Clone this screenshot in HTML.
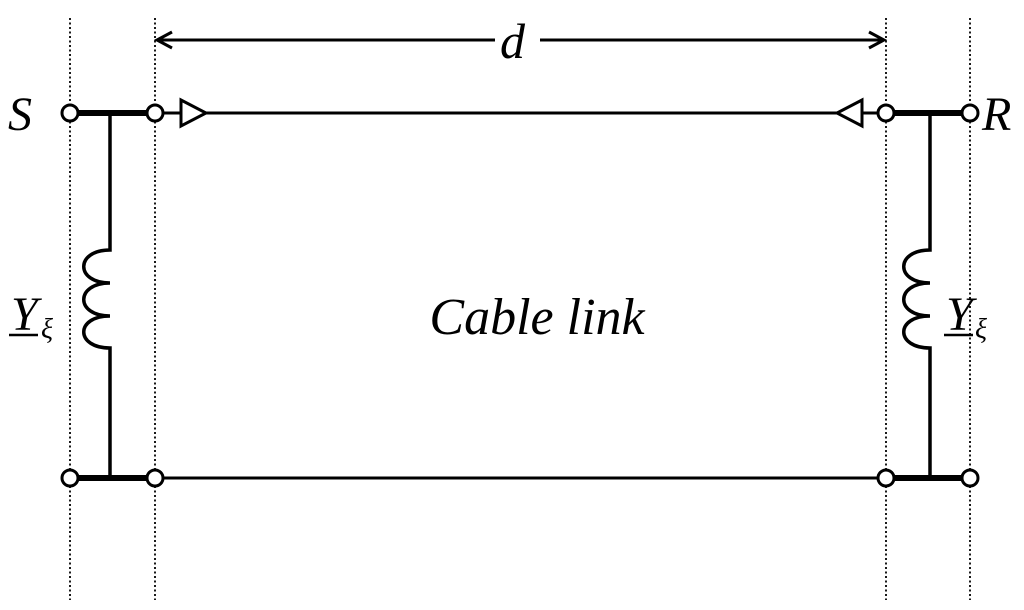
<!DOCTYPE html>
<html><head><meta charset="utf-8"><style>
html,body{margin:0;padding:0;background:#fff;}
svg{display:block;}
text{font-family:"Liberation Serif",serif;font-style:italic;fill:#000;}
</style></head><body>
<svg width="1024" height="610" viewBox="0 0 1024 610" xmlns="http://www.w3.org/2000/svg">
<g stroke="#000" stroke-width="1.8" stroke-dasharray="2,2.5" fill="none">
<line x1="70" y1="18" x2="70" y2="600"/>
<line x1="155" y1="18" x2="155" y2="600"/>
<line x1="886" y1="18" x2="886" y2="600"/>
<line x1="970" y1="18" x2="970" y2="600"/>
</g>
<g stroke="#000" fill="none" stroke-linecap="butt">
<line x1="157" y1="40" x2="495" y2="40" stroke-width="3"/>
<line x1="540" y1="40" x2="884" y2="40" stroke-width="3"/>
<polyline points="172,32 157,40 172,48" stroke-width="3"/>
<polyline points="869,32 884,40 869,48" stroke-width="3"/>
<line x1="70" y1="113" x2="155" y2="113" stroke-width="6"/>
<line x1="70" y1="478" x2="155" y2="478" stroke-width="6"/>
<line x1="886" y1="113" x2="970" y2="113" stroke-width="6"/>
<line x1="886" y1="478" x2="970" y2="478" stroke-width="6"/>
<line x1="155" y1="113" x2="886" y2="113" stroke-width="3"/>
<line x1="155" y1="478" x2="886" y2="478" stroke-width="3"/>
<path d="M110,113 V250 C75,250 75,283 110,283 C75,283 75,316 110,316 C75,316 75,348 110,348 V478" stroke-width="3.5"/>
<path d="M930,113 V250 C895,250 895,283 930,283 C895,283 895,316 930,316 C895,316 895,348 930,348 V478" stroke-width="3.5"/>
</g>
<polygon points="181,100 181,126 206,113" fill="#fff" stroke="#000" stroke-width="3"/>
<polygon points="862,100 862,126 837,113" fill="#fff" stroke="#000" stroke-width="3"/>
<g fill="#fff" stroke="#000" stroke-width="3">
<circle cx="70" cy="113" r="8"/><circle cx="155" cy="113" r="8"/>
<circle cx="886" cy="113" r="8"/><circle cx="970" cy="113" r="8"/>
<circle cx="70" cy="478" r="8"/><circle cx="155" cy="478" r="8"/>
<circle cx="886" cy="478" r="8"/><circle cx="970" cy="478" r="8"/>
</g>
<text x="8" y="130" font-size="48">S</text>
<text x="982" y="130" font-size="48">R</text>
<text x="500" y="58" font-size="50">d</text>
<text x="537" y="334" font-size="52" text-anchor="middle">Cable link</text>
<text x="11" y="330" font-size="48">Y</text>
<text x="41" y="338" font-size="28">ξ</text>
<line x1="9" y1="335" x2="38" y2="335" stroke="#000" stroke-width="2.5"/>
<text x="946" y="330" font-size="48">Y</text>
<text x="975" y="338" font-size="28">ξ</text>
<line x1="944" y1="335" x2="973" y2="335" stroke="#000" stroke-width="2.5"/>
</svg>
</body></html>
